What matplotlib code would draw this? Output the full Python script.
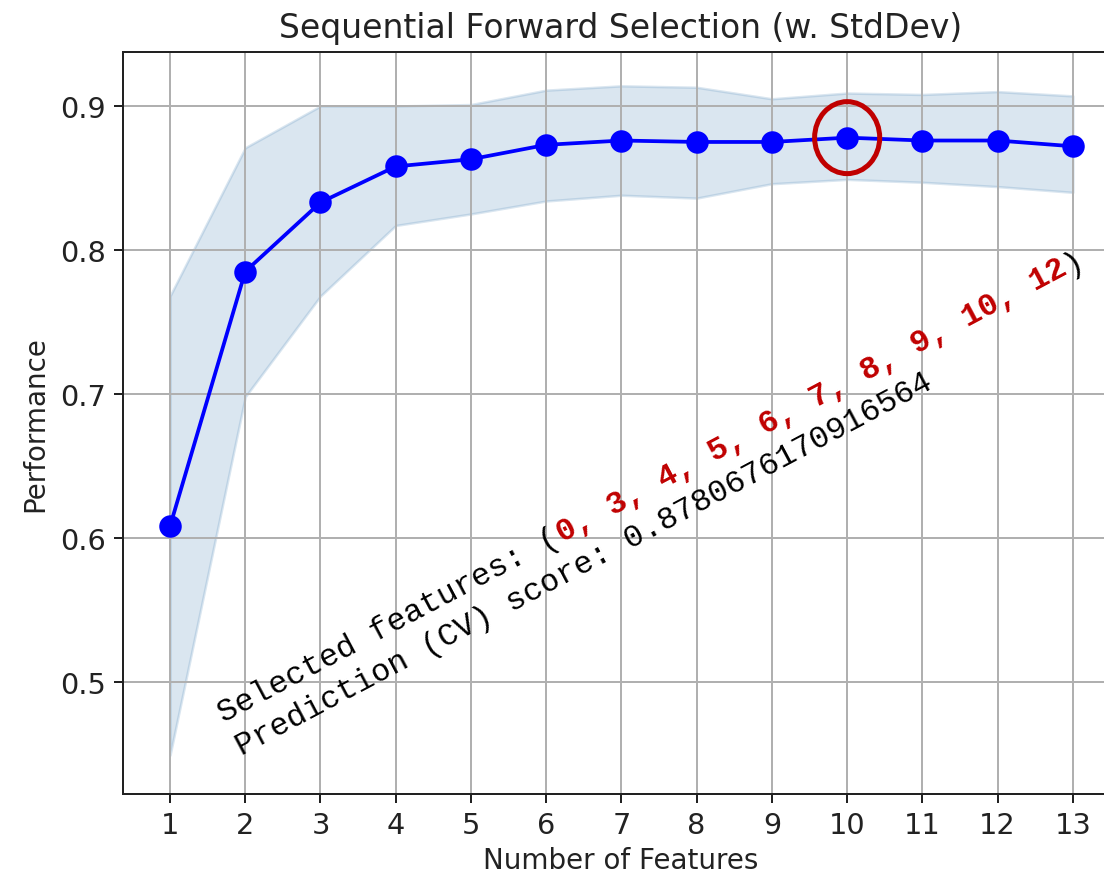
import numpy as np
import matplotlib.pyplot as plt
from matplotlib.patches import Ellipse

# Values
n_features = [1, 2, 3, 4, 5, 6, 7, 8, 9, 10, 11, 12, 13]
avg_score = [0.608, 0.785, 0.833, 0.858, 0.863, 0.873, 0.876, 0.875, 0.875, 0.878, 0.876, 0.876, 0.872]
upper_bound = [0.768, 0.871, 0.900, 0.900, 0.901, 0.911, 0.914, 0.913, 0.905, 0.909, 0.908, 0.910, 0.907]
lower_bound = [0.449, 0.698, 0.768, 0.817, 0.825, 0.834, 0.838, 0.836, 0.846, 0.849, 0.847, 0.844, 0.840]

best_k = 10
selected = "0, 3, 4, 5, 6, 7, 8, 9, 10, 12"
cv_score = "0.8780676170916564"

dark = '#222222'
plt.rcParams.update({
    'text.color': dark,
    'axes.labelcolor': dark,
    'xtick.color': dark,
    'ytick.color': dark,
    'axes.edgecolor': dark,
    'xtick.labelsize': 11.5,
    'ytick.labelsize': 11.5,
})

DPI = 180
fig = plt.figure(figsize=(1104 / DPI, 875 / DPI), dpi=DPI)
ax = fig.add_axes([123 / 1104, 80 / 875, (1118 - 123) / 1104, (795 - 53) / 875])

ax.fill_between(n_features, upper_bound, lower_bound, color='steelblue', alpha=0.2)
ax.plot(n_features, avg_score, color='blue', marker='o', markersize=8, linewidth=1.5)

# highlight the best subset
best_y = avg_score[n_features.index(best_k)]
ax.add_patch(Ellipse((best_k, best_y), 0.865, 0.05, fill=False,
                     edgecolor='#c00000', linewidth=2.0, zorder=5))

ax.set_xlim(0.375, 13.6)
ax.set_ylim(0.422, 0.9375)
ax.set_xticks(n_features)
ax.set_yticks([0.5, 0.6, 0.7, 0.8, 0.9])
ax.grid(True)
ax.set_title('Sequential Forward Selection (w. StdDev)', fontsize=13.2)
ax.set_xlabel('Number of Features', fontsize=11.1, labelpad=2.5)
ax.set_ylabel('Performance', fontsize=11.1)

# rotated annotation, built from segments so colours can differ
angle = 28
fs = 12.75
adv = 0.6 * fs  # monospace advance in points
ux, uy = np.cos(np.radians(angle)), np.sin(np.radians(angle))
px, py = np.sin(np.radians(angle)), -np.cos(np.radians(angle))
line_gap = 15.2  # points
anchor = (1.72, 0.4722)

lines = [
    [("Selected features: (", 'black', 'normal'),
     (selected, '#c00000', 'bold'),
     (")", 'black', 'normal')],
    [("Prediction (CV) score: " + cv_score, 'black', 'normal')],
]
for i, segs in enumerate(lines):
    pos = 0
    for txt, col, wt in segs:
        dx = pos * adv * ux + i * line_gap * px
        dy = pos * adv * uy + i * line_gap * py
        ax.annotate(txt, xy=anchor, xytext=(dx, dy), textcoords='offset points',
                    rotation=angle, rotation_mode='anchor', ha='left', va='baseline',
                    fontsize=fs, family='Liberation Mono', color=col, fontweight=wt,
                    annotation_clip=False)
        pos += len(txt)

fig.savefig('out.png', dpi=DPI)
